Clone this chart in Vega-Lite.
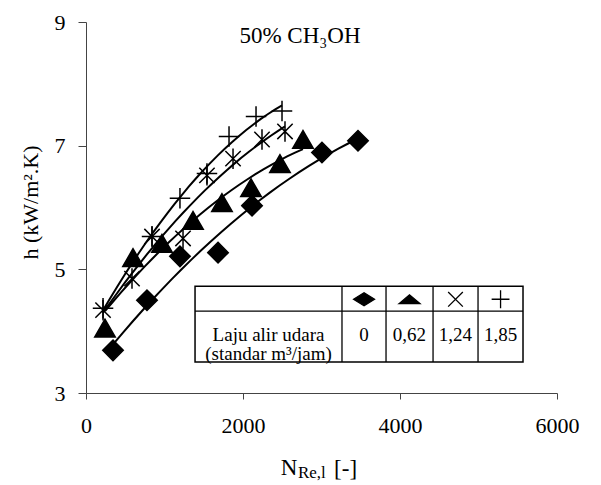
{
  "$schema": "https://vega.github.io/schema/vega-lite/v6.json",
  "autosize": "none",
  "width": 471,
  "height": 371,
  "padding": {"left": 86, "top": 22, "right": 44, "bottom": 92},
  "background": "white",
  "config": {
    "view": {"stroke": null},
    "font": "Liberation Serif",
    "axis": {"grid": false, "domainColor": "#444", "tickColor": "#444", "labelColor": "black", "titleColor": "black", "labelFont": "Liberation Serif", "titleFont": "Liberation Serif", "titleFontWeight": "normal", "labelFontSize": 22, "titleFontSize": 22, "labelFlush": false, "format": "d"},
    "axisX": {"tickSize": 6, "labelPadding": 16},
    "axisY": {"tickSize": 8, "labelPadding": 13}
  },
  "datasets": {
    "pts": [
      {"s": "0", "x": 344, "y": 3.69},
      {"s": "0", "x": 777, "y": 4.50},
      {"s": "0", "x": 1197, "y": 5.21},
      {"s": "0", "x": 1682, "y": 5.27},
      {"s": "0", "x": 2115, "y": 6.03},
      {"s": "0", "x": 3006, "y": 6.89},
      {"s": "0", "x": 3465, "y": 7.08},
      {"s": "0,62", "x": 242, "y": 4.05},
      {"s": "0,62", "x": 599, "y": 5.19},
      {"s": "0,62", "x": 968, "y": 5.42},
      {"s": "0,62", "x": 1363, "y": 5.79},
      {"s": "0,62", "x": 1732, "y": 6.08},
      {"s": "0,62", "x": 2102, "y": 6.32},
      {"s": "0,62", "x": 2471, "y": 6.71},
      {"s": "0,62", "x": 2764, "y": 7.10},
      {"s": "1,24", "x": 217, "y": 4.34},
      {"s": "1,24", "x": 586, "y": 4.85},
      {"s": "1,24", "x": 841, "y": 5.53},
      {"s": "1,24", "x": 1236, "y": 5.50},
      {"s": "1,24", "x": 1541, "y": 6.52},
      {"s": "1,24", "x": 1873, "y": 6.79},
      {"s": "1,24", "x": 2242, "y": 7.10},
      {"s": "1,24", "x": 2535, "y": 7.23},
      {"s": "1,85", "x": 217, "y": 4.37},
      {"s": "1,85", "x": 841, "y": 5.53},
      {"s": "1,85", "x": 1197, "y": 6.15},
      {"s": "1,85", "x": 1541, "y": 6.55},
      {"s": "1,85", "x": 1822, "y": 7.15},
      {"s": "1,85", "x": 2166, "y": 7.47},
      {"s": "1,85", "x": 2497, "y": 7.56}
    ],
    "box": [{"x": 1389, "x2": 5567, "y": 3.5, "y2": 4.726}],
    "grid": [
      {"x": 1389, "x2": 5567, "y": 4.323, "y2": 4.323},
      {"x": 3261, "x2": 3261, "y": 3.5, "y2": 4.726},
      {"x": 3822, "x2": 3822, "y": 3.5, "y2": 4.726},
      {"x": 4421, "x2": 4421, "y": 3.5, "y2": 4.726},
      {"x": 4994, "x2": 4994, "y": 3.5, "y2": 4.726}
    ],
    "syms": [
      {"k": "d", "x": 3542, "y": 4.516},
      {"k": "t", "x": 4121, "y": 4.516},
      {"k": "c", "x": 4707, "y": 4.516},
      {"k": "p", "x": 5281, "y": 4.516}
    ],
    "cells": [
      {"t": ["Laju alir udara", "(standar m³/jam)"], "x": 2325, "y": 3.93},
      {"t": "0", "x": 3542, "y": 3.93},
      {"t": "0,62", "x": 4121, "y": 3.93},
      {"t": "1,24", "x": 4707, "y": 3.93},
      {"t": "1,85", "x": 5281, "y": 3.93}
    ],
    "titles": [
      {"t": "50% CH₃OH", "x": 2726, "y": 8.66}
    ],
    "xtitle": [
      {"t": "N", "x": 2480, "y": 1.677, "sz": "big"},
      {"t": "Re,l", "x": 2700, "y": 1.62, "sz": "small"},
      {"t": "[-]", "x": 3160, "y": 1.66, "sz": "big"}
    ]
  },
  "layer": [
    {
      "data": {"name": "pts"},
      "transform": [{"regression": "y", "on": "x", "groupby": ["s"], "method": "poly", "order": 2}],
      "mark": {"type": "line", "color": "black", "strokeWidth": 2},
      "encoding": {
        "x": {"field": "x", "type": "quantitative", "scale": {"domain": [0, 6000], "nice": false}, "axis": {"values": [0, 2000, 4000, 6000], "title": null}},
        "y": {"field": "y", "type": "quantitative", "scale": {"domain": [3, 9], "nice": false, "zero": false}, "axis": {"values": [3, 5, 7, 9], "title": "h (kW/m².K)", "titleX": -49, "titleY": 180, "titleAngle": 270, "titleBaseline": "alphabetic", "titleAlign": "center"}},
        "detail": {"field": "s"}
      }
    },
    {
      "data": {"name": "pts"},
      "mark": {"type": "point", "filled": true, "fill": "black", "stroke": "black", "strokeWidth": 1.5, "opacity": 1},
      "encoding": {
        "x": {"field": "x", "type": "quantitative"},
        "y": {"field": "y", "type": "quantitative"},
        "shape": {"field": "s", "type": "nominal", "legend": null, "scale": {"domain": ["0", "0,62", "1,24", "1,85"], "range": ["diamond", "triangle-up", "M-0.75,-0.75L0.75,0.75M-0.75,0.75L0.75,-0.75M0,-1L0,1", "M-1,0L1,0M0,-1L0,1"]}},
        "size": {"field": "s", "type": "nominal", "legend": null, "scale": {"domain": ["0", "0,62", "1,24", "1,85"], "range": [420, 420, 440, 520]}}
      }
    },
    {
      "data": {"name": "box"},
      "mark": {"type": "rect", "fill": "white", "stroke": "black", "strokeWidth": 1.5},
      "encoding": {
        "x": {"field": "x", "type": "quantitative"},
        "x2": {"field": "x2"},
        "y": {"field": "y", "type": "quantitative"},
        "y2": {"field": "y2"}
      }
    },
    {
      "data": {"name": "grid"},
      "mark": {"type": "rule", "color": "black", "strokeWidth": 1.3},
      "encoding": {
        "x": {"field": "x", "type": "quantitative"},
        "x2": {"field": "x2"},
        "y": {"field": "y", "type": "quantitative"},
        "y2": {"field": "y2"}
      }
    },
    {
      "data": {"name": "syms"},
      "mark": {"type": "point", "filled": true, "fill": "black", "stroke": "black", "strokeWidth": 1.3, "opacity": 1},
      "encoding": {
        "x": {"field": "x", "type": "quantitative"},
        "y": {"field": "y", "type": "quantitative"},
        "shape": {"field": "k", "type": "nominal", "legend": null, "scale": {"domain": ["d", "t", "c", "p"], "range": ["M-1,0L0,-0.62L1,0L0,0.62Z", "M-1,0.42L0,-0.42L1,0.42Z", "M-0.7,-0.7L0.7,0.7M-0.7,0.7L0.7,-0.7", "M-0.85,0L0.85,0M0,-0.85L0,0.85"]}},
        "size": {"value": 440}
      }
    },
    {
      "data": {"name": "cells"},
      "mark": {"type": "text", "font": "Liberation Serif", "fontSize": 19, "color": "black", "align": "center", "baseline": "middle", "lineHeight": 19},
      "encoding": {
        "x": {"field": "x", "type": "quantitative"},
        "y": {"field": "y", "type": "quantitative"},
        "text": {"field": "t"}
      }
    },
    {
      "data": {"name": "titles"},
      "mark": {"type": "text", "font": "Liberation Serif", "fontSize": 23, "color": "black", "align": "center", "baseline": "alphabetic"},
      "encoding": {
        "x": {"field": "x", "type": "quantitative"},
        "y": {"field": "y", "type": "quantitative"},
        "text": {"field": "t"}
      }
    },
    {
      "data": {"name": "xtitle"},
      "mark": {"type": "text", "font": "Liberation Serif", "color": "black", "align": "left", "baseline": "alphabetic"},
      "encoding": {
        "x": {"field": "x", "type": "quantitative"},
        "y": {"field": "y", "type": "quantitative"},
        "text": {"field": "t"},
        "size": {"field": "sz", "type": "nominal", "legend": null, "scale": {"domain": ["big", "small"], "range": [23, 17]}}
      }
    }
  ],
  "resolve": {"scale": {"shape": "independent", "size": "independent"}}
}
